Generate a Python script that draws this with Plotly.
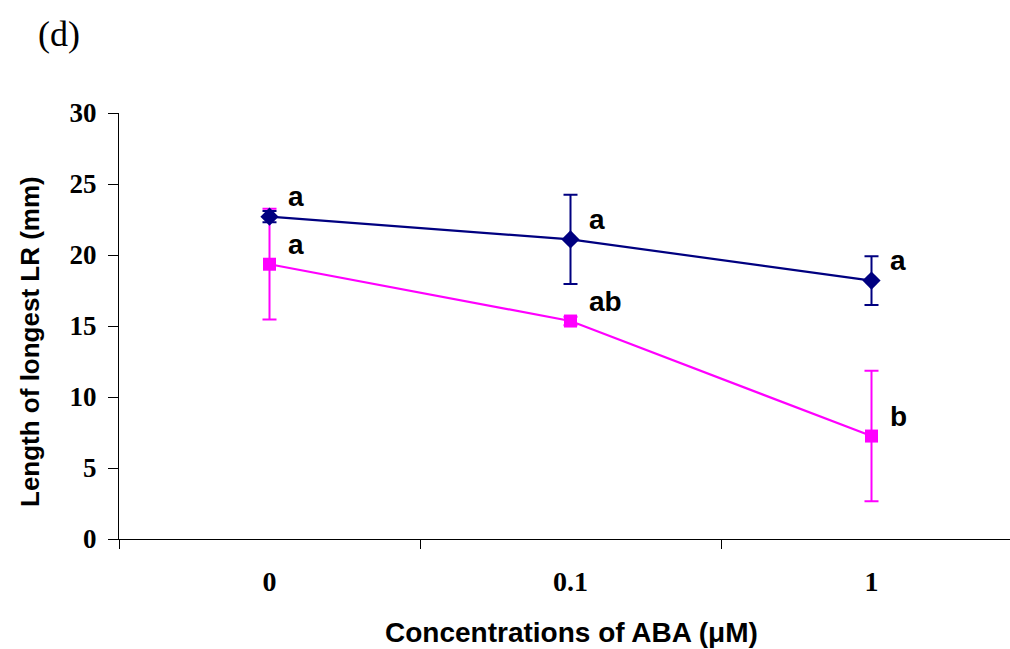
import plotly.graph_objects as go

categories = ["0", "0.1", "1"]
blue_values = [22.7, 21.1, 18.2]
blue_errors = [0.4, 3.15, 1.72]
blue_letters = ["a", "a", "a"]
magenta_values = [19.35, 15.35, 7.25]
magenta_errors = [3.9, 0.3, 4.6]
magenta_letters = ["a", "ab", "b"]
y_ticks = [0, 5, 10, 15, 20, 25, 30]

BLUE = "#000080"
MAGENTA = "#FF00FF"
SERIF = "Liberation Serif, Times New Roman, serif"
SANS = "Liberation Sans, Arial, sans-serif"

W, H = 1010, 649
L, R, T, B = 119, 0, 113, 110
pw, ph = W - L - R, H - T - B


def px_x(px):
    return (px - L) / pw


def px_y(py):
    return (H - B - py) / ph


fig = go.Figure()
fig.add_trace(go.Scatter(
    x=categories, y=magenta_values, mode="lines+markers",
    line=dict(color=MAGENTA, width=2.2),
    marker=dict(symbol="square", size=13, color=MAGENTA),
    error_y=dict(type="data", array=magenta_errors, color=MAGENTA, thickness=2, width=7),
    showlegend=False))
fig.add_trace(go.Scatter(
    x=categories, y=blue_values, mode="lines+markers",
    line=dict(color=BLUE, width=2.2),
    marker=dict(symbol="diamond", size=14, color=BLUE),
    error_y=dict(type="data", array=blue_errors, color=BLUE, thickness=2, width=7),
    showlegend=False))

letter_font = dict(family=SANS, size=28, color="black")
for ys, letters in [(blue_values, blue_letters), (magenta_values, magenta_letters)]:
    for i, (v, t) in enumerate(zip(ys, letters)):
        fig.add_annotation(x=i, y=v, xref="x", yref="y", text="<b>%s</b>" % t,
                           showarrow=False, xanchor="left", yanchor="middle",
                           xshift=16, yshift=20, font=letter_font)

fig.add_annotation(xref="paper", yref="paper", x=px_x(36), y=px_y(34),
                   text="(d)", showarrow=False, xanchor="left", yanchor="middle",
                   font=dict(family=SERIF, size=36, color="black"))

# axis titles
fig.add_annotation(xref="paper", yref="paper", x=px_x(571), y=px_y(632),
                   text="<b>Concentrations of ABA (μM)</b>", showarrow=False,
                   xanchor="center", yanchor="middle",
                   font=dict(family=SANS, size=28, color="black"))
fig.add_annotation(xref="paper", yref="paper", x=px_x(30), y=px_y(342),
                   text="<b>Length of longest LR (mm)</b>", showarrow=False,
                   textangle=-90, xanchor="center", yanchor="middle",
                   font=dict(family=SANS, size=26, color="black"))

fig.update_layout(
    width=W, height=H,
    margin=dict(l=L, r=R, t=T, b=B),
    plot_bgcolor="white", paper_bgcolor="white",
    xaxis=dict(
        type="category", range=[-0.5, -0.5 + pw / 301.0],
        tickvals=categories, ticktext=["<b>%s</b>" % c for c in categories],
        showline=True, linecolor="black", linewidth=1,
        ticks="outside", tickson="boundaries", ticklen=9, tickcolor="black",
        showgrid=False, zeroline=False,
        tickfont=dict(family=SERIF, size=28, color="black"),
        ticklabelstandoff=17,
    ),
    yaxis=dict(
        range=[0, 30], tickvals=y_ticks, ticktext=["<b>%d</b>" % t for t in y_ticks],
        showline=True, linecolor="black", linewidth=1,
        ticks="outside", ticklen=10, tickcolor="black",
        showgrid=False, zeroline=False,
        tickfont=dict(family=SERIF, size=27, color="black"),
        ticklabelstandoff=6,
    ),
)

fig.write_html("out.html")
